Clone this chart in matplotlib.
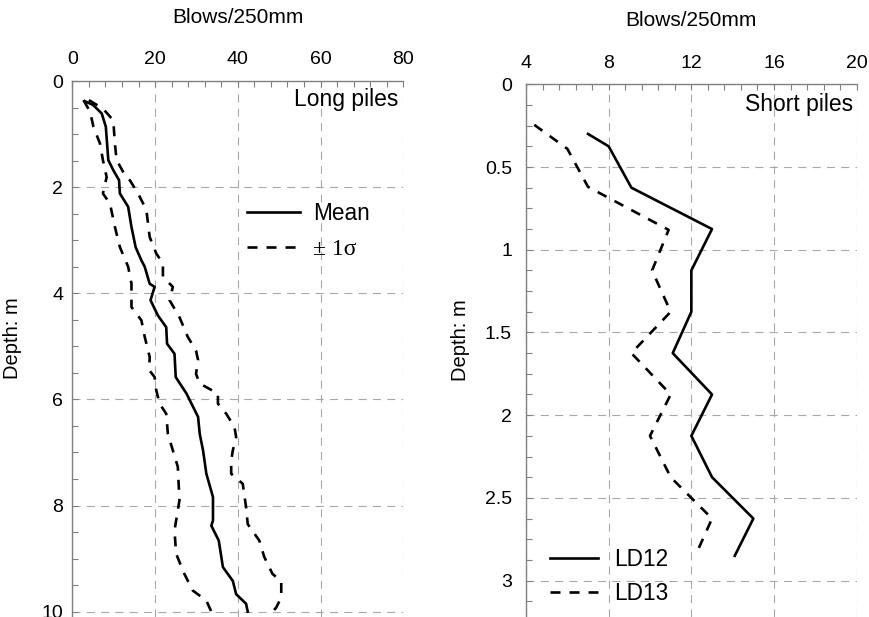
import matplotlib
matplotlib.use("Agg")
import matplotlib.pyplot as plt
from matplotlib.ticker import MultipleLocator
from matplotlib.lines import Line2D

plt.rcParams['font.family'] = ['Liberation Sans', 'DejaVu Sans']
plt.rcParams['lines.scale_dashes'] = False

# ---- Long piles data (depth m, blows/250mm) ----
mean_depth = [0.38, 0.45, 0.61, 0.86, 1.49, 1.68, 1.87, 2.12, 2.37, 2.75, 3.13, 3.38, 3.50, 3.82, 3.88,
              4.13, 4.42, 4.64, 4.95, 5.14, 5.58, 5.89, 6.33, 6.65, 6.96, 7.40, 7.84, 8.28, 8.38,
              8.66, 9.16, 9.42, 9.67, 9.85, 10.0]
mean_blows = [3.0, 5.0, 7.1, 8.1, 8.7, 9.9, 11.3, 11.5, 13.5, 14.3, 15.3, 16.7, 17.5, 18.7, 19.9,
              18.9, 20.7, 22.7, 22.9, 24.7, 25.0, 27.6, 30.4, 30.8, 31.6, 32.4, 34.0, 34.0, 33.6,
              35.4, 36.4, 38.8, 39.6, 42.0, 42.4]

minus_depth = [0.36, 0.58, 0.86, 1.18, 1.49, 1.81, 2.12, 2.31, 2.75, 3.13, 3.50, 3.82, 4.26, 4.51,
               4.82, 5.20, 5.45, 5.58, 5.83, 6.08, 6.27, 6.65, 7.27, 7.90, 8.28, 8.47, 8.91, 9.29,
               9.60, 9.79, 10.0]
minus_blows = [2.7, 4.3, 5.1, 6.7, 7.4, 8.3, 7.4, 9.1, 10.3, 11.5, 13.5, 14.3, 14.3, 16.7,
               17.5, 18.7, 18.6, 19.9, 20.3, 21.1, 22.7, 23.1, 25.5, 25.9, 25.1, 24.7, 25.1, 27.1,
               29.1, 32.4, 33.6]

plus_depth = [0.36, 0.52, 0.74, 1.18, 1.49, 1.77, 1.87, 2.12, 2.43, 2.94, 3.25, 3.44, 3.69, 3.88,
              4.13, 4.45, 4.82, 5.08, 5.26, 5.52, 5.70, 5.77, 5.89, 6.08, 6.27, 6.52, 6.71, 6.96,
              7.15, 7.40, 7.59, 8.03, 8.35, 8.66, 8.97, 9.29, 9.42, 9.73, 9.92, 10.0]
plus_blows = [4.0, 7.4, 9.9, 10.3, 10.7, 12.7, 13.9, 15.9, 17.9, 18.7, 20.3, 21.9, 21.9, 24.3,
              23.5, 25.9, 27.9, 29.9, 30.4, 29.9, 30.8, 32.4, 35.2, 35.2, 37.2, 39.2, 39.6, 38.8,
              38.4, 38.4, 41.2, 42.0, 42.4, 45.2, 46.4, 48.4, 50.5, 50.5, 49.3, 48.4]

# ---- Short piles data ----
ld12_depth = [0.30, 0.375, 0.625, 0.875, 1.125, 1.375, 1.625, 1.875, 2.125, 2.375, 2.625, 2.85]
ld12_blows = [7.0, 8.0, 9.1, 13.0, 12.0, 12.0, 11.1, 13.0, 12.0, 13.0, 15.0, 14.1]

ld13_depth = [0.245, 0.39, 0.62, 0.88, 1.125, 1.375, 1.625, 1.875, 2.125, 2.375, 2.625, 2.82]
ld13_blows = [4.4, 6.0, 7.0, 10.9, 10.1, 11.0, 9.1, 11.0, 10.0, 11.0, 13.0, 12.3]

left_xticks = [0, 20, 40, 60, 80]
left_yticks = [0, 2, 4, 6, 8, 10]
right_xticks = [4, 8, 12, 16, 20]
right_yticks = [0, 0.5, 1, 1.5, 2, 2.5, 3]
right_yticklabels = ['0', '0.5', '1', '1.5', '2', '2.5', '3']

W, H = 870, 617
fig = plt.figure(figsize=(W / 100, H / 100), dpi=100)

spine_c = '#808080'
grid_c = '#a8a8a8'
lw = 1.9
dash = (7.2, 6.5)


def style(ax, xt, yt, xminor, yminor, ypad):
    ax.xaxis.set_ticks_position('top')
    ax.xaxis.set_label_position('top')
    ax.set_xticks(xt)
    ax.set_yticks(yt)
    ax.xaxis.set_minor_locator(MultipleLocator(xminor))
    ax.yaxis.set_minor_locator(MultipleLocator(yminor))
    ax.tick_params(which='both', direction='in', color=spine_c, width=0.8, labelsize=14)
    ax.tick_params(which='major', length=4)
    ax.tick_params(which='minor', length=4)
    ax.tick_params(axis='x', pad=9)
    ax.tick_params(axis='y', pad=ypad, left=True, right=False)
    ax.tick_params(axis='x', which='both', top=True, bottom=False)
    for s in ['right', 'bottom']:
        ax.spines[s].set_visible(False)
    for s in ['top', 'left']:
        ax.spines[s].set_color(spine_c)
        ax.spines[s].set_linewidth(1.0)
    ax.grid(True, which='major', color=grid_c, linewidth=0.8, linestyle=(0, (5.8, 4.5)))
    ax.set_axisbelow(True)


# Left axes
axL = fig.add_axes([72.3 / W, 0, 331 / W, 1 - 81 / H])
axL.plot(mean_blows, mean_depth, color='black', lw=lw, solid_joinstyle='round')
axL.plot(minus_blows, minus_depth, color='black', lw=lw, linestyle=(0, dash))
axL.plot(plus_blows, plus_depth, color='black', lw=lw, linestyle=(0, dash))
axL.set_xlim(0, 80)
axL.set_ylim(10.1, 0)
style(axL, left_xticks, left_yticks, 4, 0.5, 6.5)
axL.set_xlabel('Blows/250mm', fontsize=15)
axL.set_ylabel('Depth: m', fontsize=14.5)
axL.yaxis.set_label_coords(-0.152, 0.52)
axL.xaxis.set_label_coords(0.5, 1.108)
axL.text(0.984, 0.965, 'Long piles', transform=axL.transAxes, ha='right', va='center', fontsize=16.5)
hL = [Line2D([], [], color='black', lw=lw),
      Line2D([], [], color='black', lw=lw, linestyle=(0, dash))]
legL = axL.legend(hL, ['Mean', '± 1σ'], loc='upper left', bbox_to_anchor=(0.528, 0.774),
                  frameon=False, fontsize=16.3, handlelength=2.35, handletextpad=0.58,
                  labelspacing=0.62, borderpad=0, borderaxespad=0)
legL.get_texts()[1].set_fontfamily(['Liberation Serif', 'DejaVu Serif'])
legL.get_texts()[1].set_fontsize(17)

# Right axes
axR = fig.add_axes([526 / W, 0, 330.7 / W, 1 - 84.3 / H])
axR.plot(ld12_blows, ld12_depth, color='black', lw=lw)
axR.plot(ld13_blows, ld13_depth, color='black', lw=lw, linestyle=(0, dash))
axR.set_xlim(4, 20)
axR.set_ylim(3.22, 0)
style(axR, right_xticks, right_yticks, 0.8, 0.125, 10)
axR.set_yticklabels(right_yticklabels)
axR.set_xlabel('Blows/250mm', fontsize=15)
axR.set_ylabel('Depth: m', fontsize=14.5)
axR.yaxis.set_label_coords(-0.169, 0.52)
axR.xaxis.set_label_coords(0.5, 1.109)
axR.text(0.99, 0.963, 'Short piles', transform=axR.transAxes, ha='right', va='center', fontsize=16.5)
hR = [Line2D([], [], color='black', lw=lw),
      Line2D([], [], color='black', lw=lw, linestyle=(0, dash))]
axR.legend(hR, ['LD12', 'LD13'], loc='upper left', bbox_to_anchor=(0.0726, 0.13),
           frameon=False, fontsize=16.3, handlelength=2.12, handletextpad=0.71,
           labelspacing=0.5, borderpad=0, borderaxespad=0)

fig.savefig('out.png', dpi=100)
